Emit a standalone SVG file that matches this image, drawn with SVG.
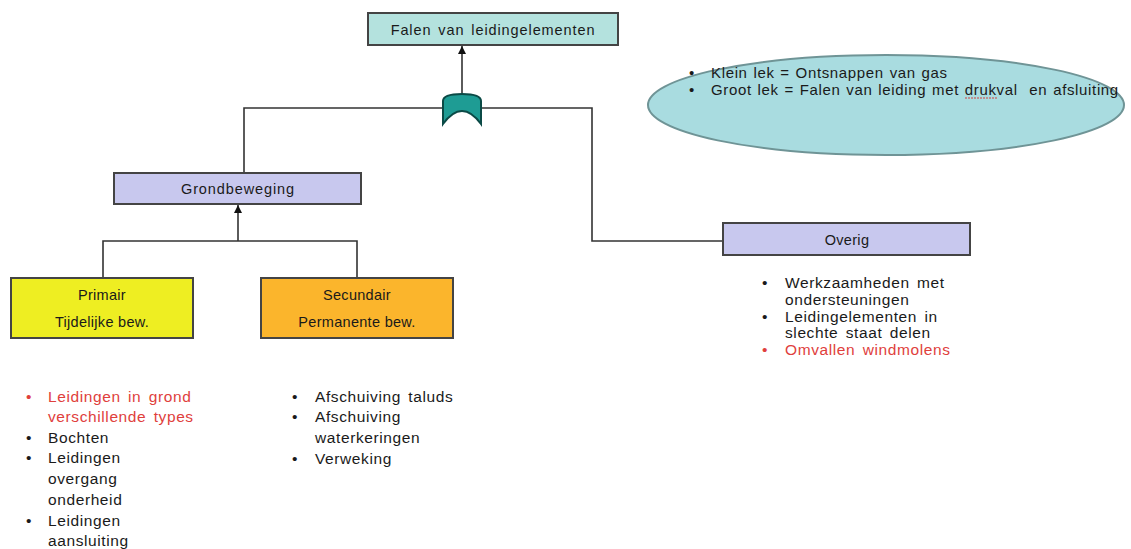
<svg xmlns="http://www.w3.org/2000/svg" width="1131" height="549" viewBox="0 0 1131 549">
<defs>
<style>
.t{font-family:"Liberation Sans",Arial,sans-serif;fill:#1a1a1a;}
.n{font-size:14.5px;text-anchor:middle;letter-spacing:0.3px;}
.nl{letter-spacing:0.9px;word-spacing:2px;}
.b{font-size:15.5px;letter-spacing:0.6px;word-spacing:2.5px;}
.e{font-size:15px;letter-spacing:0.65px;word-spacing:1px;}
.red{fill:#e0403c;}
.box{stroke:#444;stroke-width:2;}
.ln{fill:none;stroke:#333;stroke-width:1.6;}
</style>
<marker id="arr" viewBox="0 0 10 10" refX="10" refY="5" markerWidth="8" markerHeight="8" markerUnits="userSpaceOnUse" orient="auto">
<path d="M0,0 L10,5 L0,10 Z" fill="#111"/>
</marker>
</defs>
<rect width="1131" height="549" fill="#fff"/>

<g id="connectors">
<path class="ln" d="M462,94 L462,46" marker-end="url(#arr)"/>
<path class="ln" d="M244,172 L244,108 L592,108 L592,241 L723,241"/>
<path class="ln" d="M238,241 L238,205" marker-end="url(#arr)"/>
<path class="ln" d="M103,278 L103,241 L357,241 L357,278"/>
</g>

<g id="gate">
<path d="M443,124 L443,101 Q443,94 462,94 Q481,94 481,101 L481,124 Q462,98 443,124 Z" fill="#1e9c94" stroke="#0b4a46" stroke-width="2"/>
</g>

<g id="top">
<rect class="box" x="368" y="13" width="250" height="32" fill="#b4e2de"/>
<text class="t n nl" x="493" y="35">Falen van leidingelementen</text>
</g>

<g id="note">
<ellipse cx="886" cy="105" rx="238" ry="50" fill="#a9dce0" stroke="#6f9496" stroke-width="2"/>
<text class="t e" x="689" y="78">•</text>
<text class="t e" x="711" y="78">Klein lek = Ontsnappen van gas</text>
<text class="t e" x="689" y="95">•</text>
<text class="t e" x="711" y="95" xml:space="preserve">Groot lek = Falen van leiding met drukval  en afsluiting</text>
<path d="M965,98 L997,98" stroke="#d04040" stroke-width="1.2" stroke-dasharray="2,1"/>
</g>

<g id="grondbeweging">
<rect class="box" x="114" y="173" width="247" height="31" fill="#c8c8ee"/>
<text class="t n nl" x="238" y="194">Grondbeweging</text>
</g>

<g id="overig">
<rect class="box" x="723" y="223" width="247" height="32" fill="#c8c8ee"/>
<text class="t n" x="847" y="245">Overig</text>
</g>

<g id="primair">
<rect class="box" x="11" y="278" width="182" height="60" fill="#eeee22"/>
<text class="t n" x="102" y="300">Primair</text>
<text class="t n" x="102" y="327">Tijdelijke bew.</text>
</g>

<g id="secundair">
<rect class="box" x="261" y="278" width="192" height="60" fill="#fbb52c"/>
<text class="t n" x="357" y="300">Secundair</text>
<text class="t n" x="357" y="327">Permanente bew.</text>
</g>

<g id="list-primair">
<text class="t b red" x="26" y="402">•</text>
<text class="t b red" x="48" y="402">Leidingen in grond</text>
<text class="t b red" x="48" y="422">verschillende types</text>
<text class="t b" x="26" y="443">•</text>
<text class="t b" x="48" y="443">Bochten</text>
<text class="t b" x="26" y="463">•</text>
<text class="t b" x="48" y="463">Leidingen</text>
<text class="t b" x="48" y="484">overgang</text>
<text class="t b" x="48" y="505">onderheid</text>
<text class="t b" x="26" y="526">•</text>
<text class="t b" x="48" y="526">Leidingen</text>
<text class="t b" x="48" y="546">aansluiting</text>
</g>

<g id="list-secundair">
<text class="t b" x="292" y="402">•</text>
<text class="t b" x="315" y="402">Afschuiving taluds</text>
<text class="t b" x="292" y="422">•</text>
<text class="t b" x="315" y="422">Afschuiving</text>
<text class="t b" x="315" y="443">waterkeringen</text>
<text class="t b" x="292" y="464">•</text>
<text class="t b" x="315" y="464">Verweking</text>
</g>

<g id="list-overig">
<text class="t b" x="762" y="288">•</text>
<text class="t b" x="785" y="288">Werkzaamheden met</text>
<text class="t b" x="785" y="305">ondersteuningen</text>
<text class="t b" x="762" y="322">•</text>
<text class="t b" x="785" y="322">Leidingelementen in</text>
<text class="t b" x="785" y="338">slechte staat delen</text>
<text class="t b red" x="762" y="355">•</text>
<text class="t b red" x="785" y="355">Omvallen windmolens</text>
</g>
</svg>
